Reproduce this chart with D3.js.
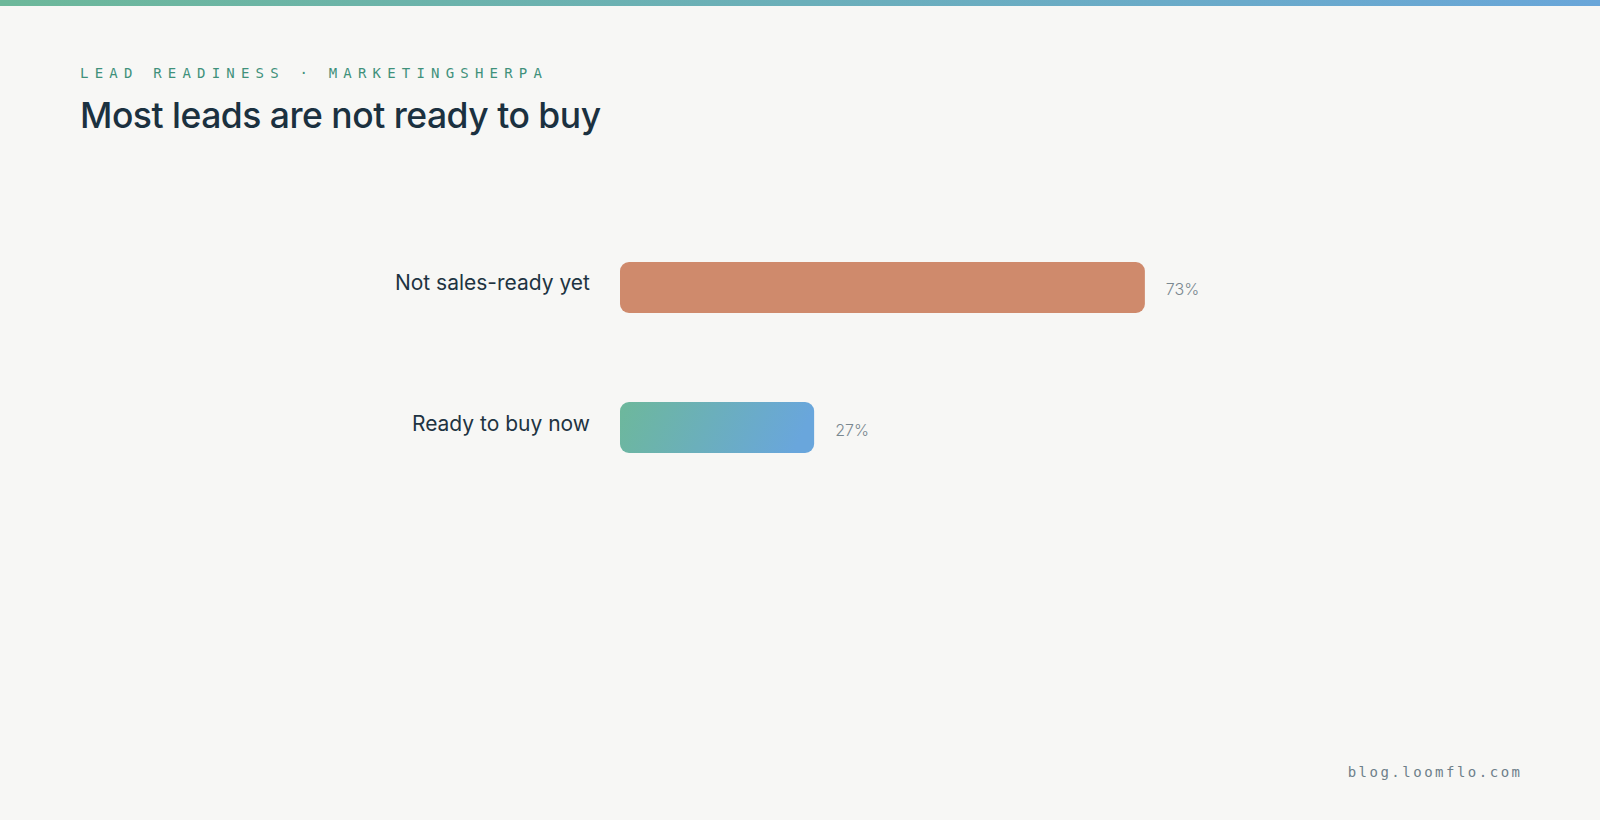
<!DOCTYPE html>
<html>
<head>
<meta charset="utf-8">
<script src="https://cdn.jsdelivr.net/npm/d3@7"></script>
<style>
  html, body { margin: 0; padding: 0; background: #f7f7f5; }
  svg { display: block; }
</style>
</head>
<body>
<svg id="chart" width="1600" height="820"></svg>
<script>
const categories = ["Not sales-ready yet", "Ready to buy now"];
const values = [73, 27];
const valueLabels = ["73%", "27%"];
const eyebrow = "LEAD READINESS · MARKETINGSHERPA";
const title = "Most leads are not ready to buy";
const footer = "blog.loomflo.com";

const W = 1600, H = 820;
const svg = d3.select("#chart");

const defs = svg.append("defs");
const topGrad = defs.append("linearGradient").attr("id", "topGrad")
  .attr("x1", "0%").attr("x2", "100%").attr("y1", "0%").attr("y2", "0%");
topGrad.append("stop").attr("offset", "0%").attr("stop-color", "#6db89a");
topGrad.append("stop").attr("offset", "100%").attr("stop-color", "#69a6d9");

const barGrad = defs.append("linearGradient").attr("id", "barGrad")
  .attr("x1", "0").attr("y1", "0").attr("x2", "1").attr("y2", "0.12");
barGrad.append("stop").attr("offset", "0%").attr("stop-color", "#6db89b");
barGrad.append("stop").attr("offset", "100%").attr("stop-color", "#69a6dc");

svg.append("rect").attr("width", W).attr("height", H).attr("fill", "#f7f7f5");
svg.append("rect").attr("x", 0).attr("y", 0).attr("width", W).attr("height", 6).attr("fill", "url(#topGrad)");

svg.append("text")
  .attr("x", 80).attr("y", 78)
  .attr("font-family", "'DejaVu Sans Mono', monospace")
  .attr("font-size", 14)
  .attr("letter-spacing", 6.2)
  .attr("fill", "#3f917b")
  .text(eyebrow);

svg.append("text")
  .attr("x", 80).attr("y", 128)
  .attr("font-family", "Inter, sans-serif")
  .attr("font-weight", 500)
  .attr("font-size", 35.5)
  .attr("letter-spacing", -0.5)
  .attr("fill", "#1b3140")
  .text(title);

const x = d3.scaleLinear().domain([0, 100]).range([620, 1339]);
const y = d3.scaleBand().domain(categories).range([262, 453]).paddingInner(0.636).paddingOuter(0);

const colors = ["#cf8a6c", "url(#barGrad)"];

const g = svg.append("g");
g.selectAll("rect.bar")
  .data(categories)
  .join("rect")
  .attr("class", "bar")
  .attr("x", x(0))
  .attr("y", d => y(d))
  .attr("width", (d, i) => x(values[i]) - x(0))
  .attr("height", y.bandwidth())
  .attr("rx", 9).attr("ry", 9)
  .attr("fill", (d, i) => colors[i]);

g.selectAll("text.cat")
  .data(categories)
  .join("text")
  .attr("class", "cat")
  .attr("x", 590)
  .attr("y", d => y(d) + y.bandwidth() / 2 + 3)
  .attr("text-anchor", "end")
  .attr("font-family", "Inter, sans-serif")
  .attr("font-size", 21)
  .attr("font-weight", 400)
  .attr("fill", "#1e3442")
  .text(d => d);

g.selectAll("text.val")
  .data(categories)
  .join("text")
  .attr("class", "val")
  .attr("x", (d, i) => x(values[i]) + 21)
  .attr("y", d => y(d) + y.bandwidth() / 2 + 8)
  .attr("font-family", "Inter, sans-serif")
  .attr("font-size", 16)
  .attr("font-weight", 300)
  .attr("fill", "#7a8890")
  .text((d, i) => valueLabels[i]);

svg.append("text")
  .attr("x", 1520 + 2.5).attr("y", 777)
  .attr("text-anchor", "end")
  .attr("font-family", "'DejaVu Sans Mono', monospace")
  .attr("font-size", 14)
  .attr("letter-spacing", 2.5)
  .attr("fill", "#6e7f8a")
  .text(footer);
</script>
</body>
</html>
